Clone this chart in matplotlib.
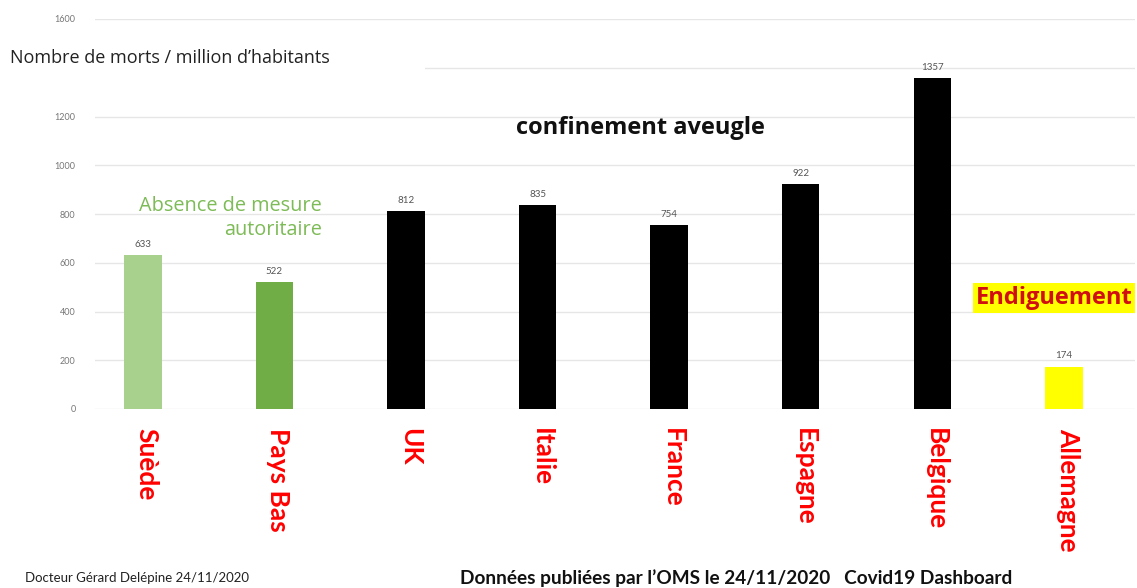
import matplotlib.pyplot as plt
from matplotlib import transforms

plt.rcParams['font.family'] = ['Lato', 'DejaVu Sans']

countries = ['Suède', 'Pays Bas', 'UK', 'Italie', 'France', 'Espagne', 'Belgique', 'Allemagne']
deaths = [633, 522, 812, 835, 754, 922, 1357, 174]
colors = ['#a9d18e', '#70ad47', '#000000', '#000000', '#000000', '#000000', '#000000', '#ffff00']
yticks = [0, 200, 400, 600, 800, 1000, 1200, 1400, 1600]
# the 1400 label is hidden behind the axis title in the original
ytick_labels = ['0', '200', '400', '600', '800', '1000', '1200', '', '1600']

fig = plt.figure(figsize=(11.37, 5.88), dpi=100)
ax = fig.add_axes([95 / 1137, 179 / 588, 1040 / 1137, 390 / 588])

x = list(range(len(countries)))
ax.bar(x, deaths, width=0.285, color=colors, zorder=2)
for xi, v in zip(x, deaths):
    ax.text(xi, v + 25, str(v), ha='center', va='bottom', fontsize=7, color='#555555')

ax.set_xlim(-0.363, 7.54)
ax.set_ylim(0, 1600)
ax.set_yticks(yticks)
ax.set_yticklabels(ytick_labels, fontsize=6.5, color='#777777')
ax.tick_params(axis='y', length=0, pad=14)
ax.set_xticks([])
ax.grid(axis='y', color='#e6e6e6', linewidth=1, zorder=0)
for s in ax.spines.values():
    s.set_visible(False)

# country names below the axis
trans = transforms.blended_transform_factory(ax.transData, ax.transAxes)
for xi, name in zip(x, countries):
    ax.text(xi + 0.03, -0.05, name, transform=trans, rotation=-90, ha='center', va='top',
            fontsize=19, fontweight='bold', color='#ff0000')

# annotations
fig.text(10 / 1137, 1 - 58 / 588, 'Nombre de morts / million d\u2019habitants', fontsize=13,
         family='Open Sans', va='center', ha='left', color='#222222')
# white patch hiding the start of the 1400 gridline, as in the original
fig.patches.append(plt.Rectangle((0, 1 - 90 / 588), 425 / 1137, 45 / 588,
                                 transform=fig.transFigure, facecolor='white',
                                 edgecolor='none', zorder=1))
fig.text(640 / 1137, 1 - 128 / 588, 'confinement aveugle', fontsize=17, fontweight='bold',
         family='Open Sans', ha='center', va='center', color='#111111')
fig.text(322 / 1137, 1 - 218 / 588, 'Absence de mesure\nautoritaire', fontsize=14.3,
         family='Open Sans', ha='right', va='center', color='#7cbb55', linespacing=1.25,
         multialignment='right')
fig.text(1054 / 1137, 1 - 298 / 588, 'Endiguement', fontsize=17, fontweight='bold',
         family='Open Sans', ha='center', va='center', color='#d01010',
         bbox=dict(facecolor='#ffff00', edgecolor='none', pad=2))

fig.text(25 / 1137, 1 - 578 / 588, 'Docteur Gérard Delépine 24/11/2020', fontsize=9.5,
         ha='left', va='center', color='#222222')
fig.text(460 / 1137, 1 - 578 / 588, 'Données publiées par l\u2019OMS le 24/11/2020   Covid19 Dashboard',
         fontsize=13.7, fontweight='bold', ha='left', va='center', color='#111111')

fig.savefig('out.png', dpi=100)
